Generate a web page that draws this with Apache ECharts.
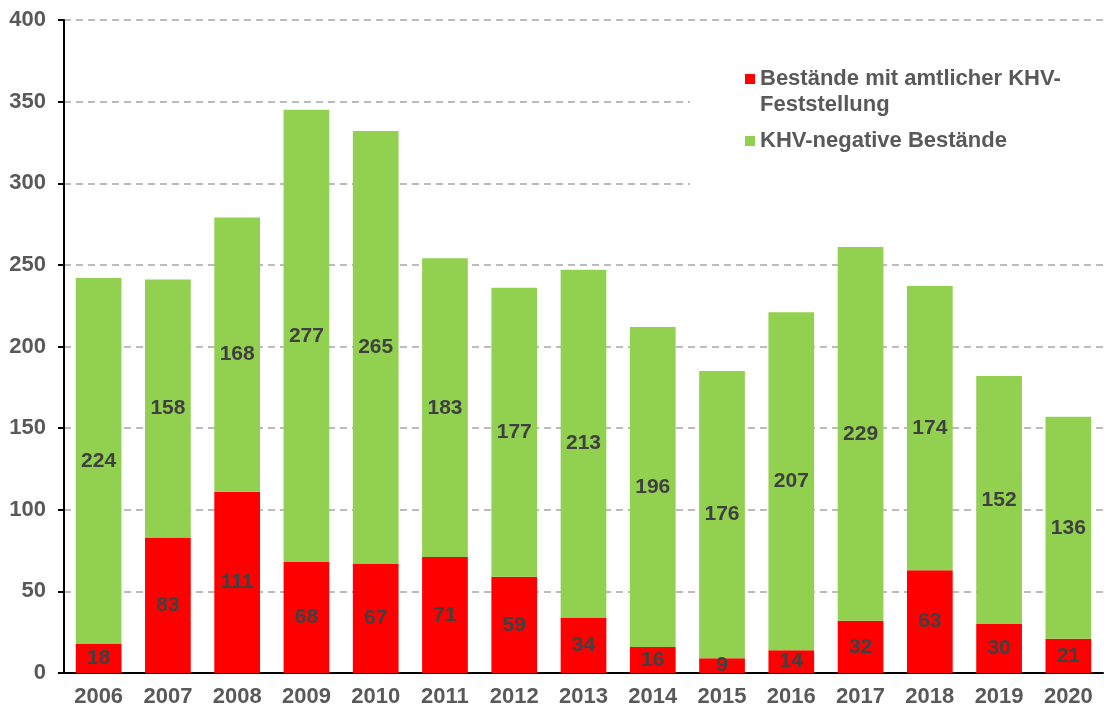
<!DOCTYPE html>
<html>
<head>
<meta charset="utf-8">
<title>KHV</title>
<script src="https://cdn.jsdelivr.net/npm/echarts@6/dist/echarts.min.js"></script>
<style>
    html, body { margin: 0; padding: 0; background: #fff; }
    #chart_01 { width: 1104px; height: 711px; }
</style>
</head>
<body>
<div id="chart_01"></div>
<script>
var years = ['2006', '2007', '2008', '2009', '2010', '2011', '2012', '2013', '2014', '2015', '2016', '2017', '2018', '2019', '2020'];
var khvPositive = [18, 83, 111, 68, 67, 71, 59, 34, 16, 9, 14, 32, 63, 30, 21];
var khvNegative = [224, 158, 168, 277, 265, 183, 177, 213, 196, 176, 207, 229, 174, 152, 136];
var seriesNames = ['Bestände mit amtlicher KHV-Feststellung', 'KHV-negative Bestände'];

var FONT = '"Liberation Sans", Arial, sans-serif';

var mychart_01 = echarts.init(document.getElementById('chart_01'));
mychart_01.setOption({
    animation: false,
    color: ['#ff0000', '#92d050'],
    textStyle: { fontFamily: FONT },
    grid: { left: 64, right: 1, top: 20, bottom: 38 },
    legend: {
        orient: 'vertical',
        left: 690,
        top: 28,
        padding: [12, 50, 50, 55],
        backgroundColor: '#fff',
        itemWidth: 10,
        itemHeight: 10,
        itemGap: 10,
        icon: 'rect',
        textStyle: {
            fontFamily: FONT,
            fontSize: 22,
            fontWeight: 'bold',
            color: '#595959',
            lineHeight: 26
        },
        // 第一项两行文字：前面加一个空行让图标对齐第一行
        formatter: function (name) {
            if (name === seriesNames[0]) {
                return ' \nBestände mit amtlicher KHV-\nFeststellung';
            }
            return name;
        },
        data: seriesNames
    },
    xAxis: {
        type: 'category',
        data: years,
        axisLine: { lineStyle: { color: '#000', width: 2 } },
        axisTick: { show: false },
        axisLabel: {
            fontFamily: FONT,
            fontSize: 22,
            fontWeight: 'bold',
            color: '#595959',
            margin: 13
        }
    },
    yAxis: {
        type: 'value',
        min: 0,
        max: 400,
        interval: 50,
        axisLine: { show: true, lineStyle: { color: '#000', width: 2 } },
        axisTick: { show: true, length: 6, lineStyle: { color: '#000', width: 2 } },
        axisLabel: {
            fontFamily: FONT,
            fontSize: 22,
            fontWeight: 'bold',
            color: '#595959',
            margin: 18
        },
        splitLine: {
            lineStyle: { color: '#a6a6a6', width: 1.5, type: [7, 5] }
        }
    },
    series: [
        {
            name: seriesNames[0],
            type: 'bar',
            stack: 'total',
            barCategoryGap: '34%',
            data: khvPositive,
            label: {
                show: true,
                position: 'inside',
                fontFamily: FONT,
                fontSize: 21,
                fontWeight: 'bold',
                color: '#404040'
            }
        },
        {
            name: seriesNames[1],
            type: 'bar',
            stack: 'total',
            barCategoryGap: '34%',
            data: khvNegative,
            label: {
                show: true,
                position: 'inside',
                fontFamily: FONT,
                fontSize: 21,
                fontWeight: 'bold',
                color: '#404040'
            }
        }
    ]
});
</script>
</body>
</html>
